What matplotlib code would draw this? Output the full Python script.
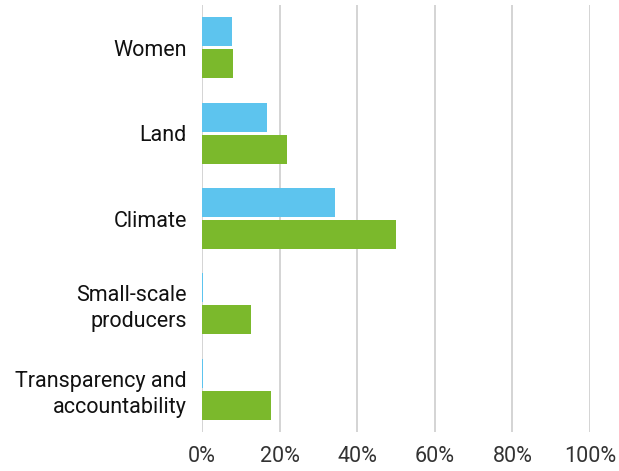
import matplotlib.pyplot as plt
import numpy as np

# categories, top to bottom
categories = ['Women', 'Land', 'Climate', 'Small-scale\nproducers',
              'Transparency and\naccountability']
blue_vals = [7.7, 16.7, 34.3, 0.2, 0.2]
green_vals = [7.9, 21.8, 50.0, 12.6, 17.7]
xticks = [0, 20, 40, 60, 80, 100]

plt.rcParams['font.family'] = ['Roboto', 'DejaVu Sans']

fig = plt.figure(figsize=(6.19, 4.71), dpi=100)
ax = fig.add_axes([0.3263, 0.083, 0.6267, 0.906])

y = np.arange(len(categories))
h = 0.34
ax.barh(y - h / 2 - 0.018, blue_vals, height=h, color='#5DC4EE', zorder=3)
ax.barh(y + h / 2 + 0.018, green_vals, height=h, color='#7BB92C', zorder=3)

ax.set_ylim(len(categories) - 0.5, -0.5)
ax.set_xlim(0, 100)
ax.set_yticks(y)
ax.set_yticklabels(categories, fontsize=15.5, color='#111111', linespacing=1.3)
ax.set_xticks(xticks)
ax.set_xticklabels([f'{t}%' for t in xticks], fontsize=15.5, color='#333333')
ax.tick_params(length=0)
ax.tick_params(axis='y', pad=11)
ax.tick_params(axis='x', pad=10)

ax.grid(axis='x', color='#d4d4d4', linewidth=1.4, zorder=0)
for s in ax.spines.values():
    s.set_visible(False)

fig.savefig('out.png', dpi=100)
